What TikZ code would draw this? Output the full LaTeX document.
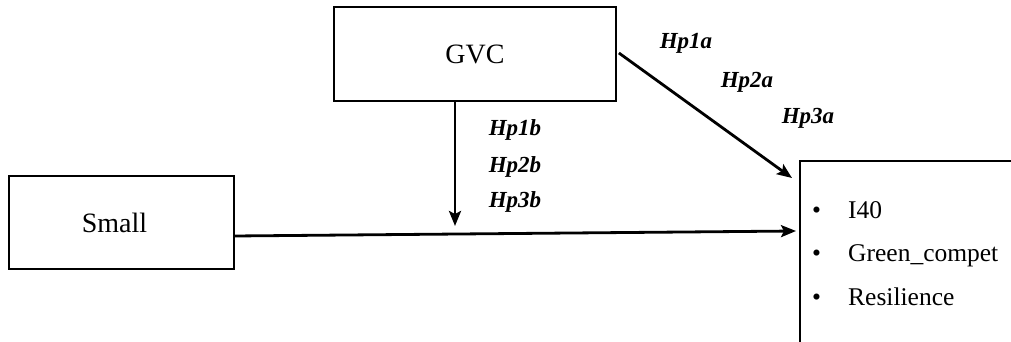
\documentclass[tikz,border=0pt]{standalone}
\usepackage{fontspec}
\setmainfont{Liberation Serif}
\usetikzlibrary{arrows.meta}
\tikzset{
  box/.style={draw=black, line width=1.8pt, inner sep=0pt, font=\fontsize{28}{32}\selectfont},
  conn/.style={line width=2.8pt, -{Stealth[length=15pt,width=12pt,inset=3pt]}},
  hyp/.style={font=\fontsize{23}{26}\selectfont\bfseries\itshape, inner sep=0pt},
  item/.style={font=\fontsize{25.5}{28}\selectfont, inner sep=0pt, anchor=base west},
}
\begin{document}
\begin{tikzpicture}[x=1pt,y=-1pt]
\useasboundingbox (0,0) rectangle (1011,342);
\clip (0,0) rectangle (1011,342);
\node[box, minimum width=282pt, minimum height=94pt] (gvc) at (475,54) {GVC};
\node[box, minimum width=225pt, minimum height=93pt, text width=225pt, align=center] (small) at (121.5,222.5) {\hspace*{-14pt}Small};
\node[box, anchor=north west, minimum width=260pt, minimum height=220pt] (out) at (799,160) {};
\coordinate (dtip) at (792,178);
\coordinate (vtip) at (455,226);
\coordinate (htip) at (796,231);
\coordinate (hstart) at (234,236);
\draw[conn] (gvc.east) ++(2,-1) -- (dtip);
\draw[conn] (gvc.south -| vtip) -- (vtip);
\draw[conn] (hstart) -- (htip);
\node[hyp] (h1a) at (686,43) {Hp1a};
\node[hyp] (h2a) at (747,82) {Hp2a};
\node[hyp] (h3a) at (808,118) {Hp3a};
\node[hyp] (h1b) at (515,130) {Hp1b};
\node[hyp] (h2b) at (515,167) {Hp2b};
\node[hyp] (h3b) at (515,202) {Hp3b};
\node[item] (b1) at (812,218) {•};
\node[item] (b2) at (812,261) {•};
\node[item] (b3) at (812,305) {•};
\node[item] (t1) at (848,218) {I40};
\node[item] (t2) at (848,261) {Green\_compet};
\node[item] (t3) at (848,305) {Resilience};
\end{tikzpicture}
\end{document}
